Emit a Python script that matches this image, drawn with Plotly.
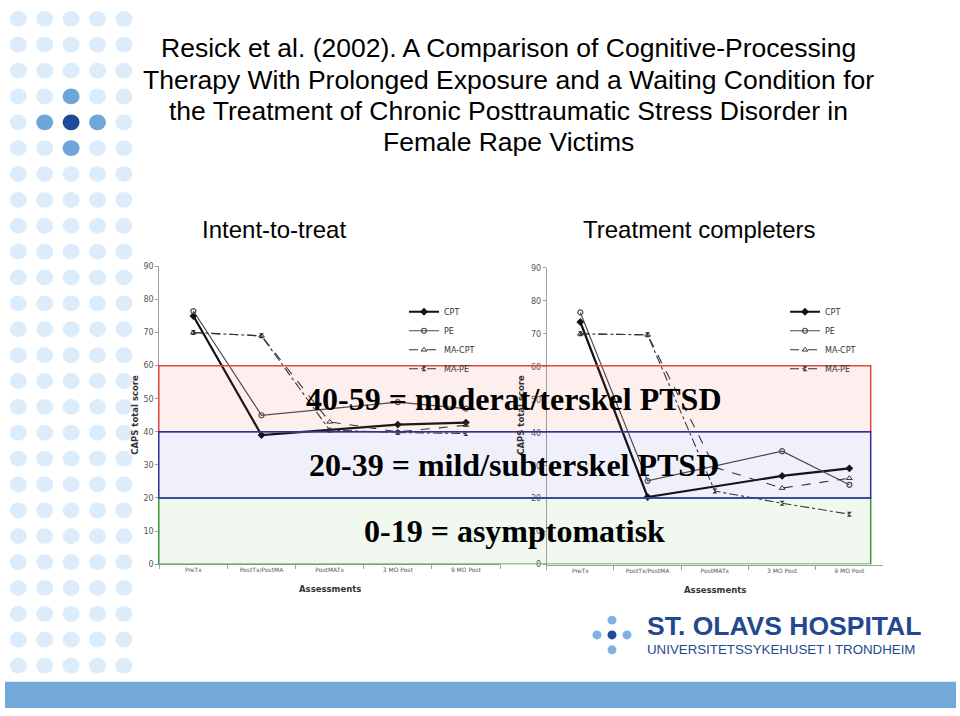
import plotly.graph_objects as go

W, H = 960, 716

# ---------------- data ----------------
categories = ["PreTx", "PostTx/PostMA", "PostMATx", "3 MO Post", "9 MO Post"]
series_names = ["CPT", "PE", "MA-CPT", "MA-PE"]

# Intent-to-treat
itt_cpt = [75.0, 39.0, None, 42.2, 42.8]
itt_pe = [76.5, 45.0, None, 49.0, 47.0]
itt_ma_cpt = [70.0, 69.0, 43.0, 40.0, 42.0]
itt_ma_pe = [70.0, 69.0, 40.5, 39.8, 39.5]

# Treatment completers
comp_cpt = [73.6, 20.5, None, 26.9, 29.2]
comp_pe = [76.5, 25.4, None, 34.4, 24.2]
comp_ma_cpt = [70.0, 69.7, 29.5, 23.2, 26.2]
comp_ma_pe = [70.0, 69.7, 22.3, 18.6, 15.3]

y_ticks = [0, 10, 20, 30, 40, 50, 60, 70, 80, 90]
band_edges = [0, 20, 40, 60]
band_labels = ["0-19 = asymptomatisk",
               "20-39 = mild/subterskel PTSD",
               "40-59 = moderat/terskel PTSD"]

title_lines = ["Resick et al. (2002). A Comparison of Cognitive-Processing",
               "Therapy With Prolonged Exposure and a Waiting Condition for",
               "the Treatment of Chronic Posttraumatic Stress Disorder in",
               "Female Rape Victims"]
panel_titles = ["Intent-to-treat", "Treatment completers"]
y_title = "CAPS total score"
x_title = "Assessments"

# ---------------- helpers ----------------
def px(x):
    return x / W

def py(y):
    return 1 - y / H

styles = {
    "CPT": dict(line=dict(color="#111111", width=2.2),
                marker=dict(symbol="diamond", size=6, color="#111111")),
    "PE": dict(line=dict(color="#4a4a4a", width=1.2),
               marker=dict(symbol="circle-open", size=5, color="#4a4a4a",
                           line=dict(width=1.2))),
    "MA-CPT": dict(line=dict(color="#333333", width=1.1, dash="dash"),
                   marker=dict(symbol="triangle-up-open", size=5, color="#333333",
                               line=dict(width=1))),
    "MA-PE": dict(line=dict(color="#333333", width=1.1, dash="dashdot"),
                  marker=dict(symbol="hourglass", size=5, color="#333333")),
}

fig = go.Figure()

panels = [
    ("x", "y", "legend", [itt_cpt, itt_pe, itt_ma_cpt, itt_ma_pe]),
    ("x2", "y2", "legend2", [comp_cpt, comp_pe, comp_ma_cpt, comp_ma_pe]),
]
for xa, ya, lg, vals in panels:
    for name, v in zip(series_names, vals):
        fig.add_trace(go.Scatter(
            x=categories, y=v, name=name, mode="lines+markers",
            connectgaps=True, xaxis=xa, yaxis=ya, legend=lg,
            **styles[name]))

tickfont = dict(family="DejaVu Sans", size=8, color="#555555")
xtickfont = dict(family="DejaVu Sans", size=6, color="#555555")

def xaxis_cfg(domain):
    return dict(domain=domain, type="category", categoryorder="array",
                categoryarray=categories, range=[-0.5, 4.5],
                showline=True, linecolor="#a0a0a0", linewidth=1,
                ticks="outside", ticklen=4, tickcolor="#a0a0a0",
                tickson="boundaries", showgrid=False, zeroline=False,
                tickfont=xtickfont, fixedrange=True)

def yaxis_cfg(domain, anchor):
    return dict(domain=domain, anchor=anchor, range=[0, 90], tickvals=y_ticks,
                showline=True, linecolor="#a0a0a0", linewidth=1,
                ticks="outside", ticklen=3, tickcolor="#a0a0a0",
                showgrid=False, zeroline=False, tickfont=tickfont,
                fixedrange=True)

fig.update_layout(
    xaxis=dict(anchor="y", **xaxis_cfg([px(159.3), px(500)])),
    yaxis=yaxis_cfg([py(567.3), py(265.7)], "x"),
    xaxis2=dict(anchor="y2", **xaxis_cfg([px(546.7), px(883)])),
    yaxis2=yaxis_cfg([py(567.7), py(267.3)], "x2"),
)

legend_common = dict(bgcolor="rgba(0,0,0,0)", borderwidth=0,
                     font=dict(family="DejaVu Sans", size=8, color="#333333"),
                     itemwidth=30, tracegroupgap=0, xanchor="left", yanchor="top")
fig.update_layout(
    legend=dict(x=px(404), y=py(297), **legend_common),
    legend2=dict(x=px(785), y=py(297), **legend_common),
)

shapes = []
# decorative dots on the left
light, mid, dark = "#dcecfb", "#6fa6da", "#1f4a99"
highlight = {(3, 2): mid, (4, 1): mid, (4, 2): dark, (4, 3): mid, (5, 2): mid}
for r in range(26):
    cy = 15 + 26.2 * r
    for c in range(5):
        cx = 18.3 + 26.4 * c
        col = highlight.get((r, c), light)
        shapes.append(dict(type="circle", xref="paper", yref="paper",
                           x0=px(cx - 8.5), x1=px(cx + 8.5),
                           y0=py(cy + 8), y1=py(cy - 8),
                           fillcolor=col, line=dict(width=0), layer="below"))
# bottom bar
shapes.append(dict(type="rect", xref="paper", yref="paper",
                   x0=px(5), x1=px(956), y0=py(713), y1=py(686.5),
                   fillcolor="#72a9d9", line=dict(width=0), layer="below"))
# logo dots
logo_dots = [(612, 624, "#7fb2e2"), (597, 639, "#7fb2e2"), (612, 639, "#1f4a99"),
             (627, 639, "#7fb2e2"), (612, 654, "#7fb2e2")]
for cx, cy, col in logo_dots:
    shapes.append(dict(type="circle", xref="paper", yref="paper",
                       x0=px(cx - 4.5), x1=px(cx + 4.5), y0=py(cy + 4.5), y1=py(cy - 4.5),
                       fillcolor=col, line=dict(width=0), layer="below"))

# severity bands (in the left chart's data units)
band_styles = [
    ("rgba(60,160,60,0.08)", "#3a9a3a"),    # 0-20
    ("rgba(70,70,210,0.08)", "#2e2ea8"),    # 20-40
    ("rgba(235,80,60,0.09)", "#e0483a"),    # 40-60
]
order = [2, 0, 1]
for i in order:
    fill, edge = band_styles[i]
    shapes.append(dict(type="rect", xref="paper", yref="y",
                       x0=px(158.8), x1=px(870.7),
                       y0=band_edges[i], y1=band_edges[i + 1],
                       fillcolor=fill, line=dict(color=edge, width=1.5),
                       layer="above"))

fig.update_layout(shapes=shapes)

ann = []
for line, cy in zip(title_lines, [45, 77, 108.5, 140]):
    ann.append(dict(text=line, x=px(509), y=py(cy), xref="paper", yref="paper",
                    xanchor="center", yanchor="middle", showarrow=False,
                    font=dict(family="Liberation Sans, Arial", size=26.5,
                              color="#000000")))
for t, cx in zip(panel_titles, [274, 699]):
    ann.append(dict(text=t, x=px(cx), y=py(228), xref="paper", yref="paper",
                    xanchor="center", yanchor="middle", showarrow=False,
                    font=dict(family="Liberation Sans, Arial", size=24, color="#000000")))
for cx in [135, 521]:
    ann.append(dict(text=f"<b>{y_title}</b>", x=px(cx), y=py(416), xref="paper",
                    yref="paper", xanchor="center", yanchor="middle", textangle=-90,
                    showarrow=False,
                    font=dict(family="DejaVu Sans", size=8.5, color="#333333")))
for cx, cy in [(330, 592), (715, 593)]:
    ann.append(dict(text=f"<b>{x_title}</b>", x=px(cx), y=py(cy), xref="paper",
                    yref="paper", xanchor="center", yanchor="middle", showarrow=False,
                    font=dict(family="DejaVu Sans", size=8.5, color="#333333")))
for i, lab in enumerate(band_labels):
    ann.append(dict(text=f"<b>{lab}</b>", x=px(514), xref="paper", yref="y",
                    y=(band_edges[i] + band_edges[i + 1]) / 2,
                    xanchor="center", yanchor="middle", showarrow=False,
                    font=dict(family="Liberation Serif, Times New Roman", size=32,
                              color="#000000")))
ann.append(dict(text="<b>ST. OLAVS HOSPITAL</b>", x=px(645), y=py(629.5),
                xref="paper", yref="paper", xanchor="left", yanchor="middle",
                showarrow=False,
                font=dict(family="Liberation Sans, Arial", size=26.5, color="#24488f")))
ann.append(dict(text="UNIVERSITETSSYKEHUSET I TRONDHEIM", x=px(645), y=py(654),
                xref="paper", yref="paper", xanchor="left", yanchor="middle",
                showarrow=False,
                font=dict(family="Liberation Sans, Arial", size=13.3, color="#24488f")))
fig.update_layout(annotations=ann)

fig.update_layout(width=W, height=H, margin=dict(l=0, r=0, t=0, b=0),
                  paper_bgcolor="#ffffff", plot_bgcolor="rgba(0,0,0,0)",
                  showlegend=True)

post = (
    "var s=document.createElement('style');"
    "s.innerHTML='html,body{margin:0;padding:0;overflow:hidden;width:960px;height:716px;}"
    "body>div{margin:0;padding:0;line-height:0;}';"
    "document.head.appendChild(s);"
    "var g=document.getElementById('{plot_id}');"
    "if(g){g.style.display='block';}"
)
fig.write_html("out.html", config={"displayModeBar": False}, post_script=post)
